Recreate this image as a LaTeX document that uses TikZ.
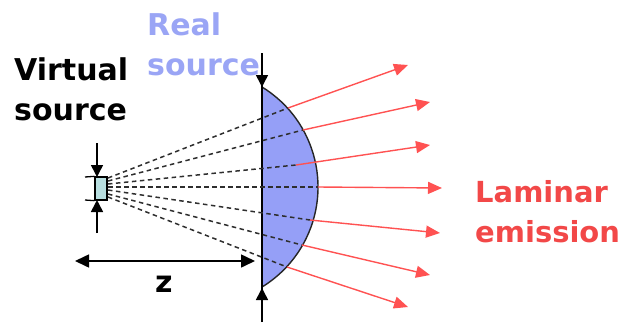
\documentclass[tikz,border=0pt]{standalone}
\usepackage{fontspec}
\setmainfont{DejaVu Sans}
\usetikzlibrary{arrows.meta}
\definecolor{lensblue}{HTML}{959FF7}
\definecolor{realblue}{HTML}{9AA5F5}
\definecolor{raycol}{HTML}{FF5252}
\definecolor{labred}{HTML}{F24848}
\definecolor{boxcyan}{HTML}{B8DFE0}
\definecolor{dashgray}{HTML}{2E2E2E}
\begin{document}
\begin{tikzpicture}[x=1pt,y=-1pt,
  blackarrow/.style={line width=1.6pt,-{Triangle[length=12pt,width=12pt]}},
  dimarrow/.style={line width=1.6pt,{Triangle[length=14pt,width=13pt]}-{Triangle[length=14pt,width=13pt]}},
  ray/.style={raycol,line width=1.4pt,-{Triangle[length=14pt,width=12pt]}},
  dashray/.style={dashgray,line width=1.5pt,dash pattern=on 4.5pt off 3.5pt},
  txtlab/.style={font=\fontsize{30}{39.5}\selectfont\bfseries,align=left,inner sep=0pt,anchor=base west}]
\useasboundingbox (0,0) rectangle (624,322);
% lens
\coordinate (lenstop) at (262,87);
\coordinate (lensbot) at (262,287);
\fill[lensblue] (lenstop) arc[start angle=-58.5,end angle=58.5,radius=117.3] -- cycle;
\draw[line width=1.4pt,black!85] (lenstop) arc[start angle=-58.5,end angle=58.5,radius=117.3];
% main vertical line
\coordinate (vtop) at (262,53);
\coordinate (vbot) at (262,322);
\draw[line width=1.6pt] (vtop) -- (vbot);
\draw[blackarrow] (vtop) -- (lenstop);
\draw[blackarrow] (vbot) -- ([yshift=-1pt]lensbot);
% virtual source box
\node[draw,line width=1.3pt,fill=boxcyan,minimum width=12pt,minimum height=23pt,inner sep=0pt] (vs) at (101,188.5) {};
\coordinate (tk1) at (85,177);
\coordinate (tk2) at (85,200);
\draw[line width=1.3pt] (tk1) -- (vs.north west);
\draw[line width=1.3pt] (tk2) -- (vs.south west);
\coordinate (sa) at (97,143);
\coordinate (sat) at (97,177);
\coordinate (sb) at (97,233);
\coordinate (sbt) at (97,200);
\draw[blackarrow] (sa) -- (sat);
\draw[blackarrow] (sb) -- (sbt);
% rays
\foreach \i/\ys/\ax/\ay/\tx/\ty in {1/178/288/108/408/65, 2/181/303/130/430/102, 3/184/296/165/430/145, 4/187/318/187/442/188, 5/190/310/220/440/233, 6/194/302/245/430/275, 7/197/287/267/408/307}{
  \coordinate (s\i) at (108,\ys);
  \coordinate (a\i) at (\ax,\ay);
  \coordinate (t\i) at (\tx,\ty);
  \draw[dashray] (s\i) -- (a\i);
  \draw[ray] (a\i) -- (t\i);
}
% z dimension
\coordinate (zl) at (75,261);
\coordinate (zr) at (255,261);
\draw[dimarrow] (zl) -- (zr);
\node[txtlab] (z) at (155,292) {z};
% labels
\node[txtlab] (virt) at (14,120) {Virtual\\source};
\node[txtlab,text=realblue] (real) at (147,75) {Real\\source};
\node[txtlab,text=labred,font=\fontsize{29}{39.5}\selectfont\bfseries] (lam) at (475,242) {Laminar\\emission};
\end{tikzpicture}
\end{document}
